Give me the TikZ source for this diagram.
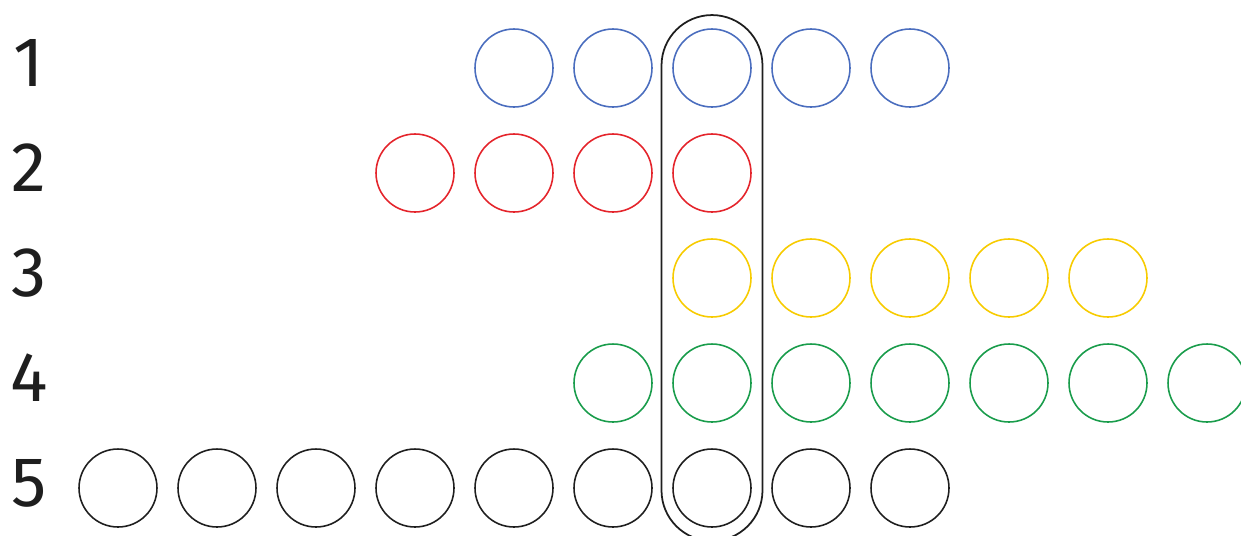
\documentclass[tikz,border=0pt]{standalone}
\usepackage{fontspec}
\setmainfont{Fira Sans}
\usetikzlibrary{positioning}
\definecolor{cBlue}{HTML}{4A6DBE}
\definecolor{cRed}{HTML}{E4242B}
\definecolor{cYellow}{HTML}{F7CB00}
\definecolor{cGreen}{HTML}{199C4B}
\definecolor{cInk}{HTML}{1E1E1E}
\tikzset{
  bead/.style={circle, draw=#1, line width=0.9pt, minimum size=1.56cm, inner sep=0pt},
  rowlabel/.style={font=\fontsize{40}{44}\selectfont, text=cInk, inner sep=0pt},
  colbox/.style={draw=cInk, line width=1pt, rounded corners=1.01cm,
    minimum width=2.02cm, minimum height=10.52cm, inner sep=0pt},
}

\begin{document}
\begin{tikzpicture}[x=0.02cm, y=-0.02cm]
  \useasboundingbox (0,0) rectangle (1241,535);
  \clip (0,0) rectangle (1241,535);

  % ---------- row numbers ----------
  \foreach \r in {1,...,5} {
    \node[rowlabel] (lab\r) at (29,-42+105*\r) {\r};
  }

  % ---------- beads ----------
  \foreach \r/\col/\first/\last in {1/cBlue/5/9, 2/cRed/4/7, 3/cYellow/7/11,
                                    4/cGreen/6/12, 5/cInk/1/9} {
    \foreach \c in {\first,...,\last} {
      \node[bead=\col] (b\r-\c) at (19+99*\c,-37+105*\r) {};
    }
  }

  % ---------- column frame ----------
  \node[colbox] (frame) at (b3-7) {};

\end{tikzpicture}
\end{document}
